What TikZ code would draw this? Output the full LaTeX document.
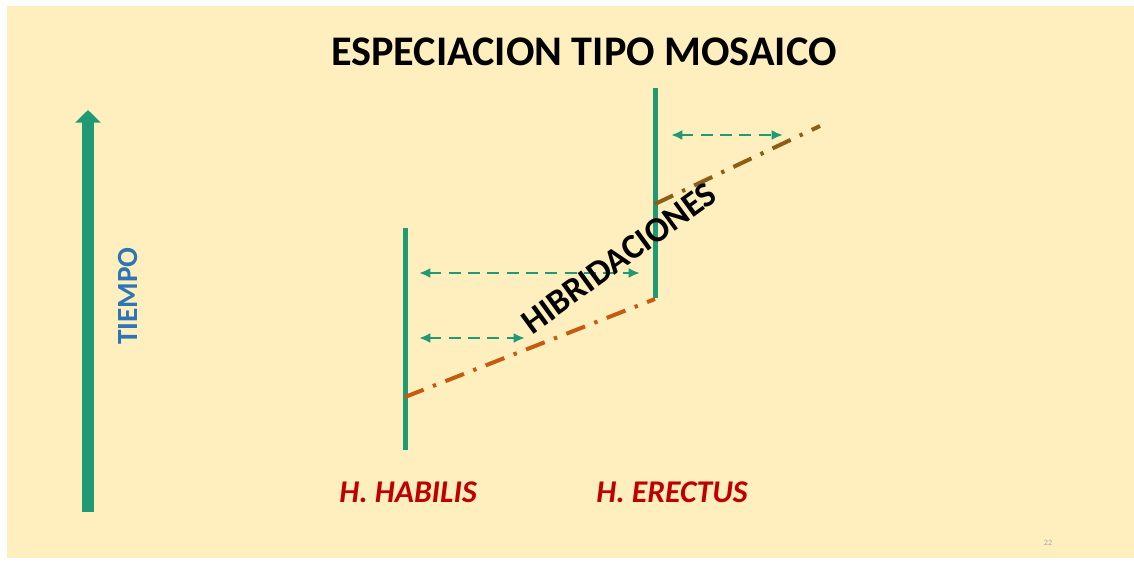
\documentclass[tikz,border=0pt]{standalone}
\usepackage{fontspec}
\setmainfont{Carlito}
\usetikzlibrary{arrows.meta}
\definecolor{SpGreen}{HTML}{1F9A74}
\definecolor{TimeBlue}{HTML}{2E75B6}
\definecolor{SpRed}{HTML}{C00000}
\definecolor{HybOrange}{HTML}{C55A11}
\definecolor{HybBrown}{HTML}{8F5E15}
\definecolor{BgYellow}{HTML}{FFEFBE}
\tikzset{
    species/.style = {draw=SpGreen, line width=0.15cm},
    flow/.style = {draw=SpGreen, line width=0.085cm,
        dash pattern=on 0.36cm off 0.22cm,
        {Latex[length=0.34cm,width=0.3cm]}-{Latex[length=0.34cm,width=0.3cm]}},
    hybrid/.style = {line width=0.12cm,
        dash pattern=on 0.6cm off 0.3cm on 0.1cm off 0.3cm},
    splabel/.style = {font=\bfseries\itshape\fontsize{27}{32}\selectfont, text=SpRed}
}

\begin{document}
\begin{tikzpicture}[x=0.03cm,y=-0.03cm]
    \useasboundingbox (0,0) rectangle (1134,563);
    \fill[white] (0,0) rectangle (1134,563);
    \fill[BgYellow] (7,6) rectangle (1134,558);
    \node (title) at (584,52) {\bfseries\fontsize{36}{42}\selectfont ESPECIACION TIPO MOSAICO};
    % eje del tiempo
    \coordinate (t-bot) at (88,512);
    \coordinate (t-top) at (88,110);
    \draw[SpGreen, line width=0.36cm, -{Triangle[length=0.38cm,width=0.75cm]}] (t-bot) -- (t-top);
    \node[rotate=90, text=TimeBlue, font=\bfseries\fontsize{25}{30}\selectfont] (tiempo) at (128,296) {TIEMPO};
    % especies
    \coordinate (hab-top) at (405,228);
    \coordinate (hab-bot) at (405,450);
    \coordinate (ere-top) at (655,88);
    \coordinate (ere-bot) at (655,298);
    \draw[species] (hab-top) -- (hab-bot);
    \draw[species] (ere-top) -- (ere-bot);
    \node[splabel] (habilis) at (408,492) {H. HABILIS};
    \node[splabel] (erectus) at (672,492) {H. ERECTUS};
    % flujo genico
    \coordinate (f1-l) at (419,273); \coordinate (f1-r) at (640,273);
    \coordinate (f2-l) at (419,338); \coordinate (f2-r) at (525,338);
    \coordinate (f3-l) at (671,135); \coordinate (f3-r) at (783,135);
    \draw[flow] (f1-l) -- (f1-r);
    \draw[flow] (f2-l) -- (f2-r);
    \draw[flow] (f3-l) -- (f3-r);
    % hibridaciones
    \coordinate (h1-a) at (405,397); \coordinate (h1-b) at (655,299);
    \coordinate (h2-a) at (655,204); \coordinate (h2-b) at (820,126);
    \draw[hybrid, HybOrange] (h1-a) -- (h1-b);
    \draw[hybrid, HybBrown] (h2-a) -- (h2-b);
    \node[rotate=36, font=\bfseries\fontsize{30}{36}\selectfont] (hibrid) at (619,258) {HIBRIDACIONES};
    \node[text=gray!70, font=\fontsize{7}{8}\selectfont] (pag) at (1048,543) {22};
\end{tikzpicture}
\end{document}
